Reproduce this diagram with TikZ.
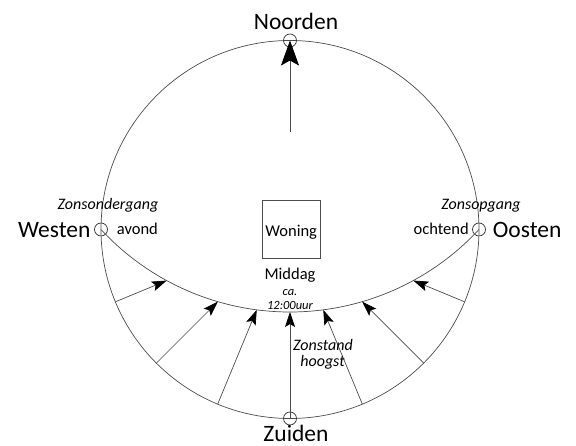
\documentclass[tikz,border=0pt]{standalone}
\usepackage{fontspec}
\setmainfont{Carlito}
\usetikzlibrary{arrows.meta,calc}
\begin{document}
\begin{tikzpicture}[x=1pt,y=1pt,
  line/.style={draw=black!70, line width=0.7pt},
  sunarrow/.style={line, -{Stealth[length=15pt,width=10pt,inset=3pt,black]}},
  northarrow/.style={line, -{Stealth[length=25pt,width=18pt,inset=5pt,black]}},
  dirlbl/.style={inner sep=0pt, font=\fontsize{23.5}{28}\selectfont},
  lbl/.style={inner sep=0pt, font=\fontsize{16.5}{20}\selectfont},
  ilbl/.style={inner sep=0pt, font=\fontsize{16}{19}\selectfont\itshape},
  slbl/.style={inner sep=0pt, font=\fontsize{12.5}{15}\selectfont\itshape},
  ring/.style={draw=black!80, line width=0.7pt, circle, minimum size=13pt, inner sep=0pt}
]
\useasboundingbox (0,0) rectangle (576,446);
\coordinate (O) at (290,216.5);
\draw[line] (O) circle[radius=189];

% cardinal point rings
\node[ring] (nN) at (290,405.5) {};
\node[ring] (nS) at (290,27.5) {};
\node[ring] (nW) at (101,216.5) {};
\node[ring] (nE) at (479,216.5) {};

% sun path arc
\draw[line] (nW.center) arc[start angle=222.83, end angle=317.17, radius=257.7];

% sun arrows
\foreach \a/\d [count=\i] in {202.5/133.47, 225/102.08, 247.5/86.97, 270/82.5, 292.5/86.97, 315/102.08, 337.5/133.47} {
  \coordinate (s\i) at ($(O)+(\a:189)$);
  \coordinate (t\i) at ($(O)+(\a:\d)$);
  \draw[sunarrow] (s\i) -- (t\i);
}

% north arrow
\coordinate (nstart) at (290,314.3);
\draw[northarrow] (nstart) -- (nN.center);

% house
\node[line, draw, minimum size=57.7pt, inner sep=0pt] (woning) at (291.2,216.9) {};
\node[lbl, anchor=base] (woningtxt) at (291.2,209.3) {Woning};

% labels
\node[dirlbl, anchor=base] (noorden) at (296,416.7) {Noorden};
\node[dirlbl, anchor=base] (zuiden) at (296,4.5) {Zuiden};
\node[dirlbl, anchor=base east] (westen) at (90.7,208.7) {Westen};
\node[dirlbl, anchor=base west] (oosten) at (492.7,208.7) {Oosten};

\node[ilbl, anchor=base] (zonsonder) at (108,236) {Zonsondergang};
\node[ilbl, anchor=base] (zonsop) at (481,236) {Zonsopgang};
\node[lbl, anchor=base west] (avond) at (116.7,211.7) {avond};
\node[lbl, anchor=base east] (ochtend) at (469,211.7) {ochtend};

\node[lbl, anchor=base] (middag) at (290,166) {Middag};
\node[slbl, anchor=base] (ca) at (290,150.3) {ca.};
\node[slbl, anchor=base] (uur) at (290,136) {12:00uur};

\node[ilbl, anchor=base] (zonstand) at (323,95.3) {Zonstand};
\node[ilbl, anchor=base] (hoogst) at (322.5,79.3) {hoogst};
\end{tikzpicture}
\end{document}
